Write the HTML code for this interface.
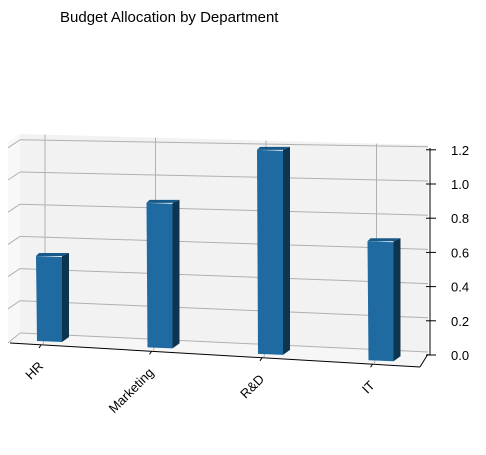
<!DOCTYPE html>
<html><head><meta charset="utf-8"><style>
body{margin:0;background:#fff;}
svg{display:block;font-family:"Liberation Sans","DejaVu Sans",sans-serif;}
</style></head><body>
<svg id="chart" width="486" height="455" viewBox="0 0 486 455">
<text x="60" y="22" font-size="15" fill="#000">Budget Allocation by Department</text>
<g id="panes">
<polygon points="8,142 20,134 20,333 8,343" fill="#f8f8f8"/>
<polygon points="20,134 428,145 428,352 20,333" fill="#f2f2f2"/>
<polygon points="20,333 428,352 420,367 10,343" fill="#f6f6f6"/>
</g>
<g id="grid"></g>
<g id="bars"></g>
<g id="axes"></g>
</svg>
<script>
const categories = ["HR","Marketing","R&D","IT"];
const values = [0.5, 0.85, 1.2, 0.7];
const zTicks = [0.0,0.2,0.4,0.6,0.8,1.0,1.2];
const zTickLabels = ["0.0","0.2","0.4","0.6","0.8","1.0","1.2"];

const NS="http://www.w3.org/2000/svg";
function mk(tag,attrs,parent){const e=document.createElementNS(NS,tag);for(const k in attrs)e.setAttribute(k,attrs[k]);parent.appendChild(e);return e;}
const grid=document.getElementById('grid'),bars=document.getElementById('bars'),axes=document.getElementById('axes');
function xCenter(i){return 49 + i*110.5;}
function baseY(x){return 341 + (x-49)*0.058;}
const zScale=170;
function backY(x,v){
  const t=(x-20)/408;
  const y0 = 333 + t*19;
  const s = 161 + t*10;
  return y0 - v*s;
}
zTicks.forEach((v,k)=>{
  const l=mk('line',{x1:8,y1:backY(20,v)+(v===0?10:8),x2:20,y2:backY(20,v),stroke:'#b0b0b0','stroke-width':1},grid);
  
  const g=mk('line',{x1:20,y1:backY(20,v),x2:428,y2:backY(428,v),stroke:'#b0b0b0','stroke-width':1},grid);
  
});
categories.forEach((c,i)=>{
  const x=xCenter(i)-4;
  const top=134+(x-20)/408*11;
  const l=mk('line',{x1:x,y1:top,x2:x,y2:backY(x,0),stroke:'#b0b0b0','stroke-width':1},grid);
  
  const f=mk('line',{x1:x,y1:backY(x,0),x2:xCenter(i)-6,y2:baseY(xCenter(i))+3,stroke:'#b0b0b0','stroke-width':1},grid);
  
});
values.forEach((v,i)=>{
  const xc=xCenter(i), x0=xc-13, w=26, d=7, yb=baseY(xc), h=v*zScale, yt=yb-h;
  const g=mk('g',{},bars);
  
  
  mk('polygon',{points:`${x0+w},${yt} ${x0+w+d},${yt-3} ${x0+w+d},${yb-4} ${x0+w},${yb+1}`,fill:'#0e3550'},g);
  mk('polygon',{points:`${x0},${yt} ${x0+3},${yt-3} ${x0+w+d},${yt-3} ${x0+w},${yt}`,fill:'#175a8a'},g);
  mk('polygon',{points:`${x0},${yt} ${x0+w},${yt+1} ${x0+w},${yb+1} ${x0+1},${yb}`,fill:'#1f6aa1'},g);
});
let a=mk('line',{x1:10,y1:343,x2:420,y2:367,stroke:'#000','stroke-width':1},axes);

a=mk('line',{x1:420,y1:367,x2:428,y2:354,stroke:'#000','stroke-width':1},axes);

a=mk('line',{x1:430,y1:148,x2:430,y2:355,stroke:'#000','stroke-width':1},axes);

zTicks.forEach((v,k)=>{
  const y=355 - v*171;
  const t=mk('line',{x1:426,y1:y,x2:436,y2:y,stroke:'#000','stroke-width':1},axes);
  
  const tx=mk('text',{x:451,y:y+5,'font-size':13,fill:'#000'},axes);
  tx.textContent=zTickLabels[k];
  
});
categories.forEach((c,i)=>{
  const xc=xCenter(i), yb=baseY(xc);
  const tk=mk('line',{x1:xc-8,y1:yb+4,x2:xc-10,y2:yb+7,stroke:'#000','stroke-width':1},axes);
  
  const tx=mk('text',{x:xc-5,y:yb+26,'font-size':13,fill:'#000','text-anchor':'end',transform:`rotate(-45 ${xc-5} ${yb+26})`},axes);
  tx.textContent=c;
  
});
</script>
</body></html>
